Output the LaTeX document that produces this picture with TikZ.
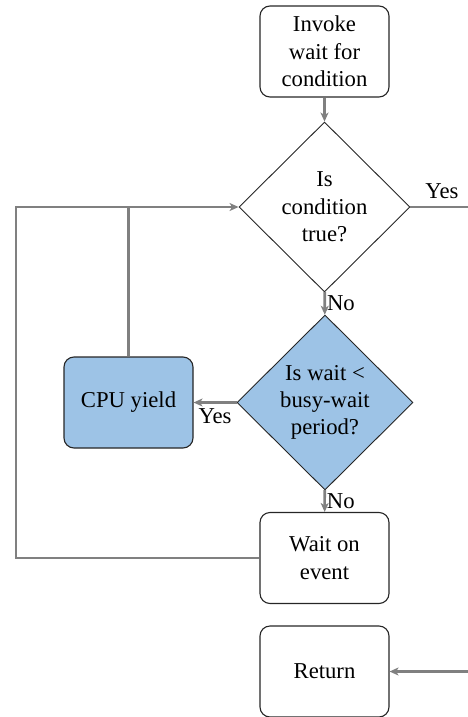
\documentclass[tikz,border=0pt]{standalone}
\usepackage{fontspec}
\setmainfont{Liberation Serif}
\usetikzlibrary{shapes.geometric,arrows.meta}
\definecolor{linegray}{RGB}{128,128,128}
\definecolor{bluefill}{RGB}{157,195,230}
\tikzset{
  txt/.style={font=\fontsize{22.7}{27.3}\selectfont},
  stepbox/.style={txt,draw=black!85,line width=1.1pt,rectangle,rounded corners=10pt,
    minimum width=129pt,minimum height=91pt,align=center,inner sep=0pt},
  decision/.style={txt,draw=black!85,line width=0.9pt,diamond,aspect=1,inner sep=0pt,
    minimum width=171pt,minimum height=170pt,align=center},
  conn/.style={draw=linegray,line width=2.6pt},
  arr/.style={conn,-{Stealth[length=9pt,width=8pt,inset=2.5pt]}},
  lbl/.style={txt,inner sep=1pt}
}
\begin{document}
\begin{tikzpicture}[x=1pt,y=-1pt]
\useasboundingbox (0,0) rectangle (468,717);
\clip (0,0) rectangle (468,717);
\node[stepbox] (invoke) at (324.5,51.5) {Invoke\\wait for\\condition};
\node[decision] (cond) at (324.5,207) {Is\\condition\\true?};
\node[decision,fill=bluefill,minimum width=176pt,minimum height=175pt] (busy) at (325,402.5) {Is wait <\\busy-wait\\period?};
\node[stepbox,fill=bluefill] (yield) at (128.5,402.5) {CPU yield};
\node[stepbox] (wait) at (324.5,558) {Wait on\\event};
\node[stepbox] (ret) at (324.5,671.5) {Return};
\coordinate (lc) at (16,207);
\coordinate (ll) at (16,558);
\coordinate (yc) at (128.5,207);
\coordinate (rt) at (490,207);
\coordinate (rb) at (490,671.5);
\draw[arr] (invoke) -- (cond);
\draw[arr] (cond) -- node[lbl,anchor=west] {No} (busy);
\draw[arr] (busy) -- node[lbl,anchor=north,yshift=-4pt] {Yes} (yield);
\draw[arr] (busy) -- node[lbl,anchor=west] {No} (wait);
\draw[arr] (wait.west) -- (ll) -- (lc) -- (cond.west);
\draw[conn] (yield.north) -- (yc);
\draw[arr] (cond.east) -- (rt) -- (rb) -- (ret.east);
\node[lbl] (yes1) at (442,191) {Yes};
\end{tikzpicture}
\end{document}
